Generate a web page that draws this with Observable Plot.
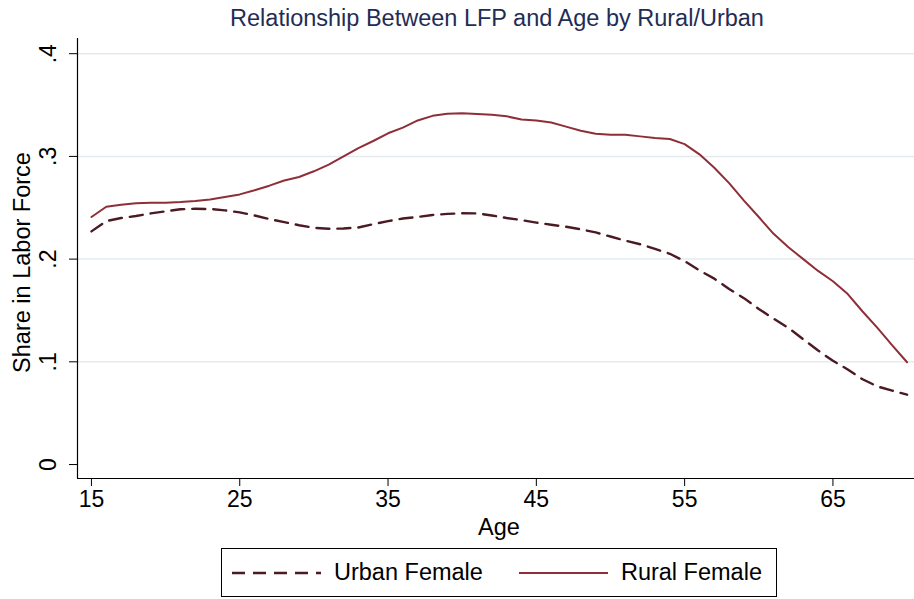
<!DOCTYPE html>
<html>
<head>
<meta charset="utf-8">
<script src="https://cdn.jsdelivr.net/npm/d3@7"></script>
<script src="https://cdn.jsdelivr.net/npm/@observablehq/plot@0.6"></script>
<style>
  body { margin: 0; background: #fff; font-family: "Liberation Sans", Arial, Helvetica, sans-serif; }
  #wrap { position: relative; width: 914px; height: 599px; overflow: hidden; background: #fff; }
  #title { position: absolute; left: 77px; width: 840px; top: 5px; text-align: center; font-size: 23.5px; color: #1f2d55; white-space: nowrap; }
  #legend { position: absolute; left: 221px; top: 548px; width: 556px; height: 49px; box-sizing: border-box;
            border: 1.3px solid #000; display: flex; align-items: center; font-size: 23.5px; color: #000; white-space: nowrap; }
  #legend .item { display: flex; align-items: center; }
  #legend svg { display: block; }
</style>
</head>
<body>
<div id="wrap">
  <div id="title"></div>
  <div id="chart"></div>
  <div id="legend"></div>
</div>
<script>
const titleText = "Relationship Between LFP and Age by Rural/Urban";
const xLabel = "Age";
const yLabel = "Share in Labor Force";
const seriesNames = ["Urban Female", "Rural Female"];
const seriesColors = ["#4b1a23", "#8e2f38"];

const ages = [15,16,17,18,19,20,21,22,23,24,25,26,27,28,29,30,31,32,33,34,35,36,37,38,39,40,41,42,
              43,44,45,46,47,48,49,50,51,52,53,54,55,56,57,58,59,60,61,62,63,64,65,66,67,68,69,70];

const urbanFemale = [0.227,0.237,0.240,0.242,0.2445,0.2465,0.2485,0.249,0.2488,0.2475,0.2455,0.2425,0.239,0.236,
  0.233,0.2305,0.2295,0.2298,0.2308,0.234,0.237,0.2395,0.241,0.243,0.244,0.2447,0.2445,0.2425,
  0.240,0.238,0.2355,0.2335,0.2315,0.229,0.226,0.222,0.218,0.2145,0.210,0.2052,0.198,0.189,
  0.181,0.171,0.162,0.1515,0.142,0.133,0.122,0.111,0.101,0.0925,0.083,0.076,0.072,0.068];

const ruralFemale = [0.241,0.251,0.253,0.2545,0.255,0.255,0.2555,0.2565,0.258,0.2605,0.263,0.267,0.2715,0.2765,
  0.280,0.2855,0.292,0.300,0.308,0.315,0.3225,0.328,0.335,0.3395,0.3415,0.342,0.3412,0.3405,
  0.339,0.336,0.335,0.333,0.329,0.325,0.322,0.321,0.321,0.3195,0.318,0.317,0.312,0.302,
  0.289,0.274,0.257,0.241,0.2246,0.2115,0.200,0.1885,0.1785,0.166,0.149,0.133,0.116,0.0996];

const xTicks = [15,25,35,45,55,65];
const yTicks = [0,0.1,0.2,0.3,0.4];
const xDomain = [14.06, 70.5];
const yDomain = [-0.0136, 0.4148];

const urban = ages.map((a, i) => ({age: a, value: urbanFemale[i]}));
const rural = ages.map((a, i) => ({age: a, value: ruralFemale[i]}));

const fmtY = d => d === 0 ? "0" : d3.format(".1f")(d).replace(/^0/, "");

const chart = Plot.plot({
  width: 914,
  height: 599,
  marginLeft: 77,
  marginRight: 0,
  marginTop: 38,
  marginBottom: 121,
  style: {fontFamily: "'Liberation Sans', Arial, Helvetica, sans-serif", fontSize: "23px", color: "#000", background: "#fff"},
  x: {domain: xDomain},
  y: {domain: yDomain},
  marks: [
    Plot.gridY(yTicks.filter(d => d > 0), {stroke: "#e3ebef", strokeOpacity: 1, strokeWidth: 1.5}),
    Plot.axisX(xTicks, {tickSize: 8, tickPadding: 4, tickFormat: d => String(d), fontSize: 23, label: null, stroke: "#000"}),
    Plot.axisY(yTicks, {tickSize: 8, tickPadding: 14, tickRotate: -90, tickFormat: fmtY, fontSize: 23, label: null, stroke: "#000"}),
    Plot.ruleX([xDomain[0]], {stroke: "#000", strokeWidth: 1.2}),
    Plot.ruleY([yDomain[0]], {stroke: "#000", strokeWidth: 1.2}),
    Plot.line(urban, {x: "age", y: "value", stroke: seriesColors[0], strokeWidth: 2.4, strokeDasharray: "13,8"}),
    Plot.line(rural, {x: "age", y: "value", stroke: seriesColors[1], strokeWidth: 2}),
    Plot.text([yLabel], {frameAnchor: "left", dx: -55, dy: 4, rotate: -90, textAnchor: "middle", lineAnchor: "middle",
                         text: d => d, fontSize: 23.5, fill: "#000"}),
    Plot.text([xLabel], {frameAnchor: "bottom", dx: 3, dy: 49, textAnchor: "middle", lineAnchor: "middle",
                         text: d => d, fontSize: 23.5, fill: "#000"})
  ]
});
document.getElementById("chart").appendChild(chart);
document.getElementById("title").textContent = titleText;

const legend = document.getElementById("legend");
seriesNames.forEach((name, i) => {
  const item = document.createElement("div");
  item.className = "item";
  item.style.marginLeft = i === 0 ? "10px" : "36px";
  const ns = "http://www.w3.org/2000/svg";
  const svg = document.createElementNS(ns, "svg");
  svg.setAttribute("width", 90);
  svg.setAttribute("height", 10);
  const ln = document.createElementNS(ns, "line");
  ln.setAttribute("x1", 0); ln.setAttribute("x2", 89);
  ln.setAttribute("y1", 5); ln.setAttribute("y2", 5);
  ln.setAttribute("stroke", seriesColors[i]);
  ln.setAttribute("stroke-width", i === 0 ? 2.4 : 2);
  if (i === 0) ln.setAttribute("stroke-dasharray", "13,8");
  svg.appendChild(ln);
  const label = document.createElement("span");
  label.textContent = name;
  label.style.marginLeft = "12px";
  item.appendChild(svg);
  item.appendChild(label);
  legend.appendChild(item);
});
</script>
</body>
</html>
